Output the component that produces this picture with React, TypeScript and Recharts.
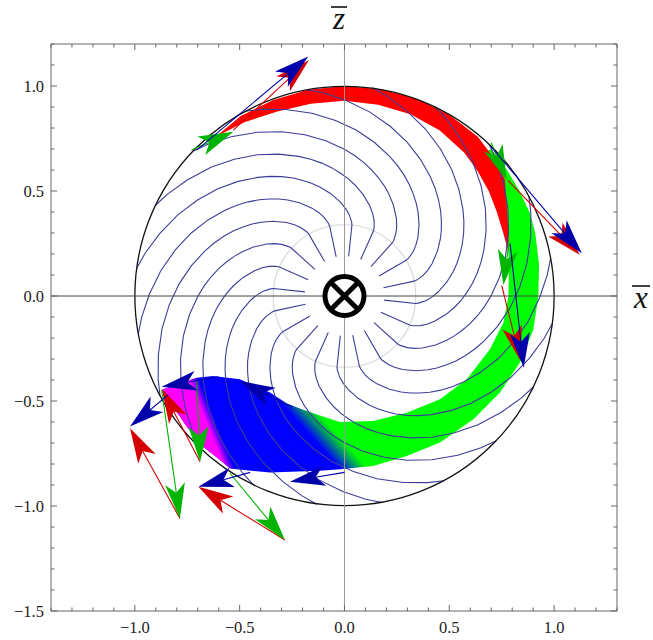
import React from "react";
import { ScatterChart, Scatter, XAxis, YAxis } from "recharts";

type Pair = [number, number];

// frame ticks, every 0.1, labels on every 0.5
const xTicks = [-1.4, -1.3, -1.2, -1.1, -1.0, -0.9, -0.8, -0.7, -0.6, -0.5, -0.4, -0.3, -0.2, -0.1, 0, 0.1, 0.2, 0.3, 0.4, 0.5, 0.6, 0.7, 0.8, 0.9, 1.0, 1.1, 1.2, 1.3];
const yTicks = [-1.5, -1.4, -1.3, -1.2, -1.1, -1.0, -0.9, -0.8, -0.7, -0.6, -0.5, -0.4, -0.3, -0.2, -0.1, 0, 0.1, 0.2, 0.3, 0.4, 0.5, 0.6, 0.7, 0.8, 0.9, 1.0, 1.1, 1.2];

// circles: centre + a point on the rim
const unitCircle: Pair[] = [[0, 0], [1, 0]];
const innerCircle: Pair[] = [[0, 0], [0.34, 0]];

// field line shape: [radius, turn in degrees from its start]
const spiralProfile: Pair[] = [
  [0.19, 0], [0.34, 0], [0.355, 0.5], [0.388, 2.7], [0.415, 5.1], [0.446, 8.3], [0.493, 13.8],
  [0.531, 18.6], [0.558, 22.1], [0.585, 25.8], [0.613, 29.6], [0.642, 33.7], [0.671, 37.9],
  [0.7, 42.2], [0.745, 48.9], [0.791, 55.8], [0.837, 62.9], [0.884, 70.1],
  [0.931, 77.5], [0.973, 84.0], [1.0, 88.4],
];
const spiralStartAngles = [12, 30, 48, 66, 84, 102, 120, 138, 156, 174, 192, 210, 228, 246, 264, 282, 300, 318, 336, 354];

// red band along the top (both edges from left tip to right tip)
const redBandOuter: Pair[] = [
  [-0.614, 0.758], [-0.495, 0.857], [-0.34, 0.933], [-0.173, 0.982], [0, 1.0], [0.174, 0.985],
  [0.342, 0.94], [0.499, 0.864], [0.636, 0.758], [0.709, 0.662], [0.765, 0.555], [0.774, 0.429],
  [0.783, 0.317], [0.782, 0.21],
];
const redBandInner: Pair[] = [
  [-0.614, 0.758], [-0.478, 0.827], [-0.32, 0.879], [-0.161, 0.916], [0, 0.93], [0.161, 0.911],
  [0.315, 0.865], [0.455, 0.788], [0.572, 0.682], [0.636, 0.593], [0.688, 0.5], [0.726, 0.402],
  [0.756, 0.305], [0.782, 0.21],
];

// green/blue/magenta band: outer edge from the top down to the left tip, then inner edge back
const tailBandOuter: Pair[] = [
  [0.7, 0.7], [0.775, 0.6], [0.835, 0.5], [0.885, 0.394], [0.91, 0.3], [0.928, 0.15], [0.925, 0],
  [0.901, -0.159], [0.837, -0.317], [0.742, -0.46], [0.615, -0.587], [0.456, -0.698], [0.297, -0.762],
  [0.137, -0.81], [-0.021, -0.825], [-0.117, -0.832], [-0.355, -0.841], [-0.546, -0.821],
  [-0.594, -0.781], [-0.674, -0.718], [-0.753, -0.622], [-0.817, -0.527], [-0.865, -0.444],
];
const tailBandInner: Pair[] = [
  [-0.785, -0.416], [-0.705, -0.389], [-0.626, -0.381], [-0.499, -0.397], [-0.355, -0.46],
  [-0.276, -0.511], [-0.21, -0.537], [-0.1, -0.575], [-0.021, -0.6], [0.137, -0.595], [0.297, -0.556],
  [0.456, -0.492], [0.583, -0.397], [0.694, -0.254], [0.758, -0.127], [0.782, 0], [0.785, 0.15],
  [0.775, 0.3], [0.77, 0.4], [0.75, 0.5], [0.71, 0.6], [0.66, 0.68],
];

// arrows: [start, tip]
const redArrows: Pair[][] = [
  [[-0.53, 0.79], [-0.17, 1.123]],
  [[0.78, 0.55], [1.122, 0.197]],
  [[0.75, 0.05], [0.84, -0.31]],
  [[-0.785, -1.059], [-1.023, -0.63]],
  [[-0.689, -0.789], [-0.872, -0.44]],
  [[-0.284, -1.162], [-0.697, -0.908]],
];
const greenArrows: Pair[][] = [
  [[-0.73, 0.695], [-0.53, 0.782]],
  [[0.7, 0.73], [0.774, 0.552]],
  [[0.785, 0.26], [0.758, 0.052]],
  [[-0.872, -0.448], [-0.785, -1.059]],
  [[-0.705, -0.4], [-0.689, -0.789]],
  [[-0.546, -0.844], [-0.284, -1.162]],
];
const blueArrows: Pair[][] = [
  [[-0.705, 0.695], [-0.173, 1.14]],
  [[0.7, 0.71], [1.132, 0.203]],
  [[0.79, 0.25], [0.855, -0.342]],
  [[-0.6, -0.385], [-0.872, -0.432]],
  [[-0.84, -0.47], [-1.023, -0.622]],
  [[-0.45, -0.84], [-0.697, -0.908]],
  [[0.0, -0.84], [-0.26, -0.884]],
  [[-0.25, -0.53], [-0.499, -0.405]],
];

const centre: Pair[] = [[0, 0]];
const xZeroLine: Pair[] = [[-1.4, 0], [1.3, 0]];
const yZeroLine: Pair[] = [[0, -1.5], [0, 1.2]];

const frameColor = "#666";
const serifStyle = { fontFamily: '"Liberation Serif", "Times New Roman", Times, serif' };

const toPts = (a: Pair[]) => a.map(([x, y]) => ({ x, y }));

const spiralLines = spiralStartAngles.map((a0) =>
  spiralProfile.map(([r, da]) => {
    const a = ((a0 + da) * Math.PI) / 180;
    return { x: r * Math.cos(a), y: r * Math.sin(a) };
  })
);

const redBand = [...redBandOuter, ...redBandInner.slice(1, -1).reverse()];
const tailBand = [...tailBandOuter, ...tailBandInner];

const isMajor = (v: number) => Math.abs(v * 2 - Math.round(v * 2)) < 1e-6;
const fmt = (v: number) => (v < -1e-9 ? "\u2212" : "") + Math.abs(v).toFixed(1);

const Hidden = () => <g />;

const BottomTick = ({ x, y, payload }: any) => {
  const major = isMajor(payload.value);
  return (
    <g>
      <line x1={x} x2={x} y1={y} y2={y - (major ? 6 : 3.5)} stroke={frameColor} />
      {major && (
        <text x={x} y={y + 22} textAnchor="middle" style={serifStyle} fontSize={16.5} fill="#222">
          {fmt(payload.value)}
        </text>
      )}
    </g>
  );
};
const TopTick = ({ x, y, payload }: any) => (
  <line x1={x} x2={x} y1={y} y2={y + (isMajor(payload.value) ? 6 : 3.5)} stroke={frameColor} />
);
const LeftTick = ({ x, y, payload }: any) => {
  const major = isMajor(payload.value);
  return (
    <g>
      <line x1={x} x2={x + (major ? 6 : 3.5)} y1={y} y2={y} stroke={frameColor} />
      {major && (
        <text x={x - 7} y={y + 5.5} textAnchor="end" style={serifStyle} fontSize={16.5} fill="#222">
          {fmt(payload.value)}
        </text>
      )}
    </g>
  );
};
const RightTick = ({ x, y, payload }: any) => (
  <line x1={x} x2={x - (isMajor(payload.value) ? 6 : 3.5)} y1={y} y2={y} stroke={frameColor} />
);

const ZLabel = ({ viewBox }: any) => {
  const cx = viewBox.x + viewBox.width / 2 + 5;
  const base = viewBox.y + viewBox.height - 15;
  return (
    <g>
      <line x1={cx - 8} x2={cx + 8} y1={base - 22} y2={base - 22} stroke="#111" strokeWidth={1.6} />
      <text x={cx} y={base} textAnchor="middle" style={serifStyle} fontStyle="italic" fontSize={31} fill="#111">
        z
      </text>
    </g>
  );
};
const XLabel = ({ viewBox }: any) => {
  const cx = viewBox.x + 24;
  const base = viewBox.y + (viewBox.height * 1.2) / 2.7 + 12;
  return (
    <g>
      <line x1={cx - 9} x2={cx + 9} y1={base - 22} y2={base - 22} stroke="#111" strokeWidth={1.6} />
      <text x={cx} y={base} textAnchor="middle" style={serifStyle} fontStyle="italic" fontSize={31} fill="#111">
        x
      </text>
    </g>
  );
};

// linear data->pixel map taken from the points the library placed
const pixelMap = (data: { x: number; y: number }[], pts: { x: number; y: number }[]) => {
  let a = 0, b = 0, c = 0, d = 0;
  data.forEach((p, i) => {
    if (p.x < data[a].x) a = i;
    if (p.x > data[b].x) b = i;
    if (p.y < data[c].y) c = i;
    if (p.y > data[d].y) d = i;
  });
  const sx = (pts[b].x - pts[a].x) / (data[b].x - data[a].x);
  const sy = (pts[d].y - pts[c].y) / (data[d].y - data[c].y);
  return ([x, y]: Pair) => [pts[a].x + (x - data[a].x) * sx, pts[c].y + (y - data[c].y) * sy];
};

type Fade = { id: string; from: Pair; to: Pair; stops: [string, string, number][] };

const band = (data: { x: number; y: number }[], fill: string, fade?: Fade) => (props: any) => {
  const pts = props.points as { x: number; y: number }[];
  const d = pts.map((p, i) => `${i ? "L" : "M"}${p.x},${p.y}`).join("") + "Z";
  if (!fade) return <path d={d} fill={fill} stroke="none" />;
  const map = pixelMap(data, pts);
  const [x1, y1] = map(fade.from);
  const [x2, y2] = map(fade.to);
  return (
    <g>
      <defs>
        <linearGradient id={fade.id} gradientUnits="userSpaceOnUse" x1={x1} y1={y1} x2={x2} y2={y2}>
          {fade.stops.map(([off, col, op]) => (
            <stop key={off} offset={off} stopColor={col} stopOpacity={op} />
          ))}
        </linearGradient>
      </defs>
      <path d={d} fill={`url(#${fade.id})`} stroke="none" />
    </g>
  );
};

const ring = (color: string, width: number) => (props: any) => {
  const [c, r] = props.points;
  return <circle cx={c.x} cy={c.y} r={Math.abs(r.x - c.x)} fill="none" stroke={color} strokeWidth={width} />;
};

const arrow = (color: string) => (props: any) => {
  const [a, b] = props.points;
  const dx = b.x - a.x, dy = b.y - a.y;
  const len = Math.hypot(dx, dy) || 1;
  const ux = dx / len, uy = dy / len, nx = -uy, ny = ux;
  const L = 35, W = 10, N = 9;
  const bx = b.x - ux * L, by = b.y - uy * L;
  const kx = b.x - ux * (L - N), ky = b.y - uy * (L - N);
  const head = `M${b.x},${b.y}L${bx + nx * W},${by + ny * W}L${kx},${ky}L${bx - nx * W},${by - ny * W}Z`;
  return (
    <g>
      <line x1={a.x} y1={a.y} x2={kx} y2={ky} stroke={color} strokeWidth={1.1} />
      <path d={head} fill={color} stroke="none" />
    </g>
  );
};

const CrossedCircle = ({ cx, cy }: any) => {
  const k = 13.8;
  return (
    <g>
      <circle cx={cx} cy={cy} r={19.5} fill="#fff" stroke="#000" strokeWidth={5} />
      <line x1={cx - k} y1={cy - k} x2={cx + k} y2={cy + k} stroke="#000" strokeWidth={5} />
      <line x1={cx - k} y1={cy + k} x2={cx + k} y2={cy - k} stroke="#000" strokeWidth={5} />
    </g>
  );
};

const tailPts = toPts(tailBand);
const blueGreen: Fade = {
  id: "fadeBlueGreen",
  from: [-0.1, -0.735],
  to: [-0.025, -0.668],
  stops: [["0", "#0000ff", 1], ["1", "#00ff00", 1]],
};
const magentaEnd: Fade = {
  id: "fadeMagenta",
  from: [-0.645, -0.636],
  to: [-0.605, -0.62],
  stops: [["0", "#ff00ff", 1], ["1", "#ff00ff", 0]],
};

const axisCommon = {
  type: "number" as const,
  allowDataOverflow: true,
  interval: 0 as const,
  tickSize: 0,
  tickMargin: 0,
  tickLine: false,
  axisLine: { stroke: frameColor },
};

export default function App() {
  return (
    <div style={{ position: "absolute", left: 0, top: 0, width: 653, height: 640, background: "#fff" }}>
      <ScatterChart width={653} height={640} margin={{ top: 43, left: 50, right: 35, bottom: 28 }}>
        <XAxis {...axisCommon} dataKey="x" domain={[-1.4, 1.3]} ticks={xTicks} height={1} tick={BottomTick} />
        <XAxis
          {...axisCommon}
          xAxisId="top"
          orientation="top"
          dataKey="x"
          domain={[-1.4, 1.3]}
          ticks={xTicks}
          height={1}
          tick={TopTick}
          label={{ content: ZLabel }}
        />
        <YAxis {...axisCommon} dataKey="y" domain={[-1.5, 1.2]} ticks={yTicks} width={1} tick={LeftTick} />
        <YAxis
          {...axisCommon}
          yAxisId="right"
          orientation="right"
          dataKey="y"
          domain={[-1.5, 1.2]}
          ticks={yTicks}
          width={1}
          tick={RightTick}
          label={{ content: XLabel }}
        />

        <Scatter data={toPts(innerCircle)} shape={Hidden} line={ring("#d8d8d8", 1.2)} isAnimationActive={false} />
        <Scatter data={tailPts} shape={Hidden} line={band(tailPts, "#00ff00", blueGreen)} isAnimationActive={false} />
        <Scatter data={tailPts} shape={Hidden} line={band(tailPts, "#ff00ff", magentaEnd)} isAnimationActive={false} />
        <Scatter data={toPts(redBand)} shape={Hidden} line={band(toPts(redBand), "#ff0000")} isAnimationActive={false} />

        {spiralLines.map((pts, i) => (
          <Scatter
            key={`s${i}`}
            data={pts}
            shape={Hidden}
            line={{ stroke: "#3d3d99", strokeWidth: 1.1 }}
            lineJointType="linear"
            isAnimationActive={false}
          />
        ))}

        <Scatter data={toPts(unitCircle)} shape={Hidden} line={ring("#111", 1.3)} isAnimationActive={false} />
        <Scatter data={toPts(xZeroLine)} shape={Hidden} line={{ stroke: "#444", strokeWidth: 1 }} isAnimationActive={false} />
        <Scatter data={toPts(yZeroLine)} shape={Hidden} line={{ stroke: "#999", strokeWidth: 1 }} isAnimationActive={false} />

        {redArrows.map((a, i) => (
          <Scatter key={`r${i}`} data={toPts(a)} shape={Hidden} line={arrow("#d40000")} isAnimationActive={false} />
        ))}
        {greenArrows.map((a, i) => (
          <Scatter key={`g${i}`} data={toPts(a)} shape={Hidden} line={arrow("#00b400")} isAnimationActive={false} />
        ))}
        {blueArrows.map((a, i) => (
          <Scatter key={`b${i}`} data={toPts(a)} shape={Hidden} line={arrow("#0000aa")} isAnimationActive={false} />
        ))}

        <Scatter data={toPts(centre)} shape={CrossedCircle} isAnimationActive={false} />
      </ScatterChart>
    </div>
  );
}
